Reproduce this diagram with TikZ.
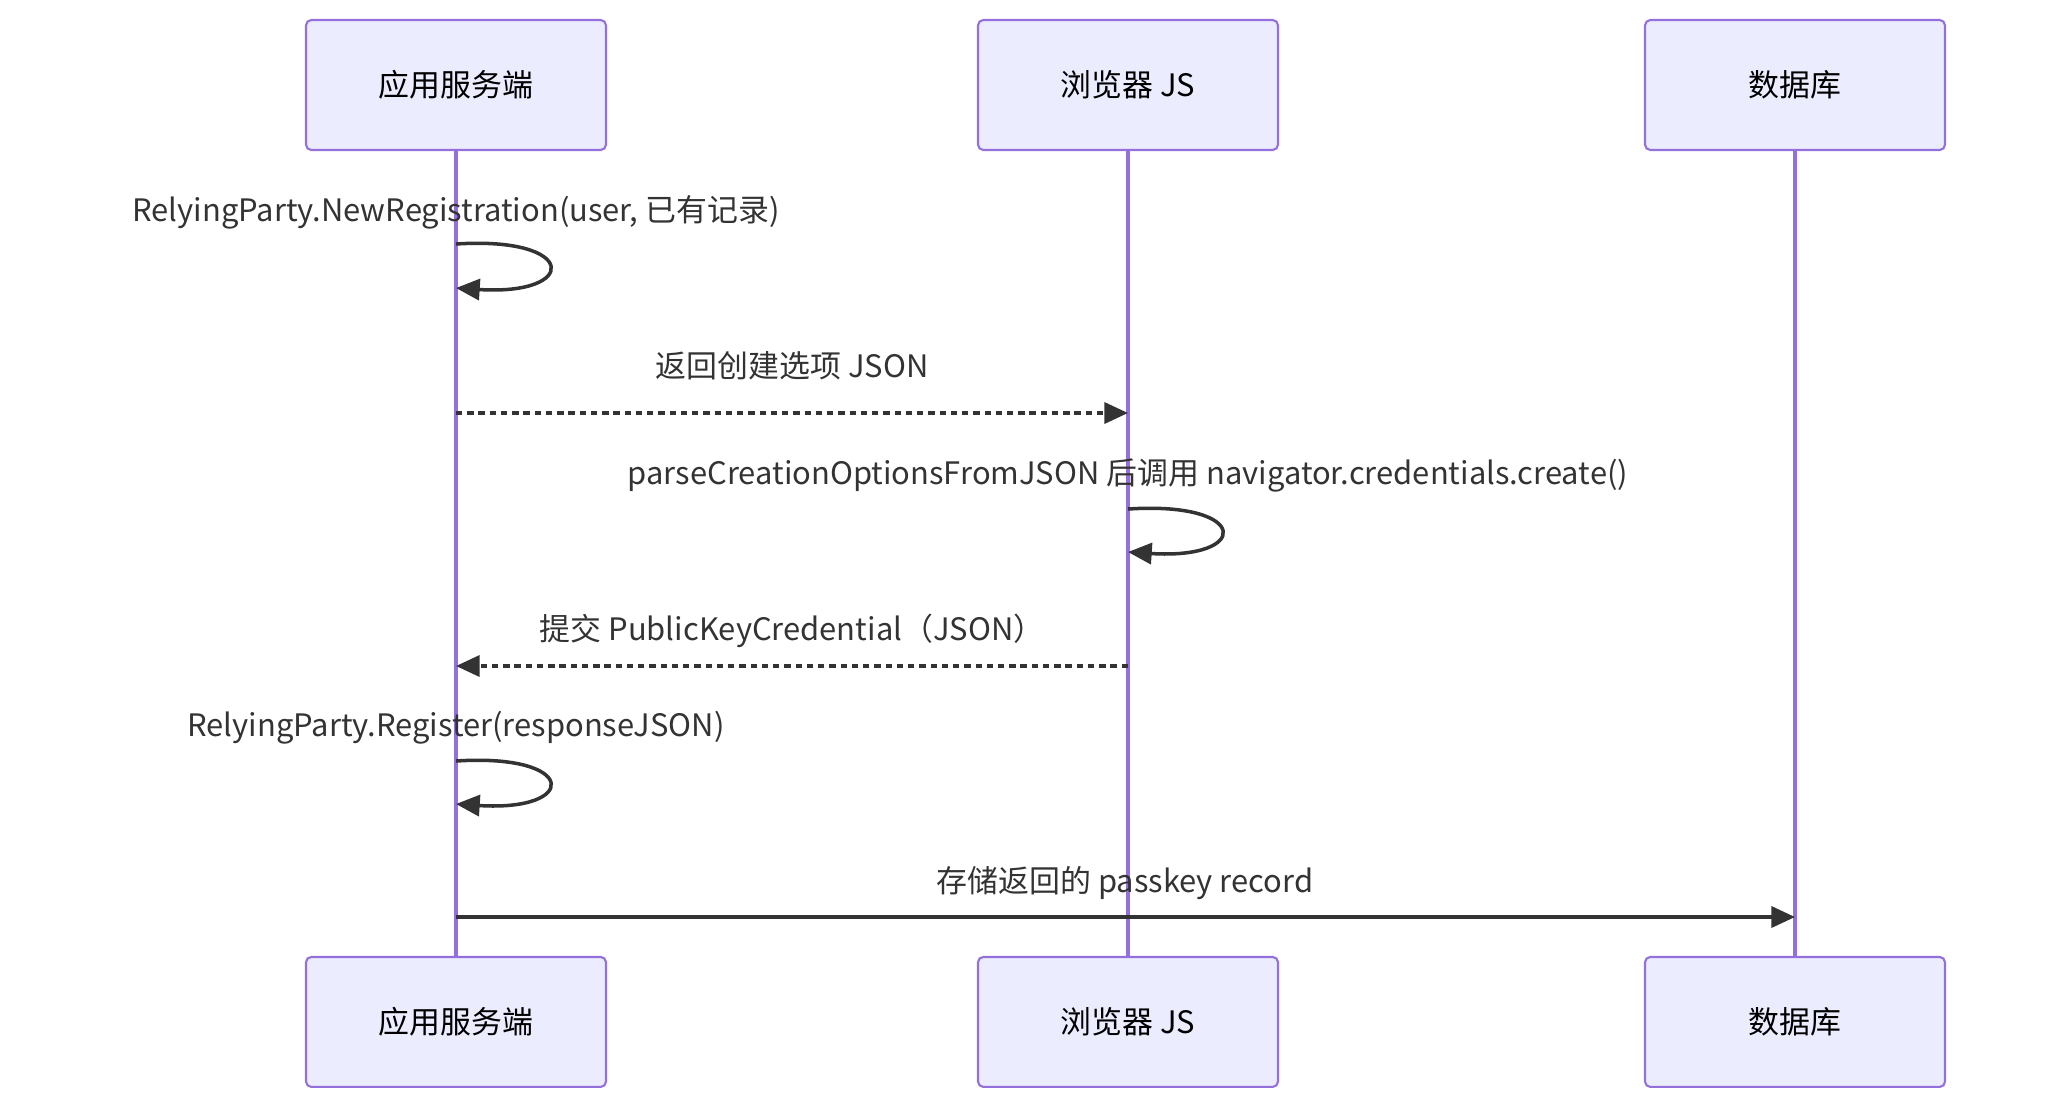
\documentclass[tikz,border=0pt]{standalone}
\usepackage{fontspec}
\setmainfont{Noto Sans CJK SC}
\usetikzlibrary{positioning}
\usetikzlibrary{arrows.meta}

\definecolor{actfill}{HTML}{ECECFF}
\definecolor{actline}{HTML}{9370DB}
\definecolor{msgline}{HTML}{333333}

\begin{document}
\begin{tikzpicture}[x=0.02cm, y=-0.02cm,
	actor/.style={draw=actline, fill=actfill, line width=1.2pt, rounded corners=3pt, minimum width=6cm, minimum height=2.6cm, font=\fontsize{17.6}{20}\selectfont},
	life/.style={draw=actline, line width=1.8pt},
	msg/.style={draw=msgline, line width=2pt, -{Triangle[length=13.5pt, width=12pt]}},
	reply/.style={msg, dash pattern=on 3.6pt off 2.8pt},
	msgtxt/.style={text=msgline, anchor=base, inner sep=0pt, font=\fontsize{17.6}{20}\selectfont}]
	\useasboundingbox (0,0) rectangle (2045,1110);
	% actors, top row
	\node[actor] (srv) at (456,85) {应用服务端};
	\node[actor] (js) at (1128,85) {浏览器 JS};
	\node[actor] (db) at (1795,85) {数据库};
	% actors, bottom row
	\node[actor, below=16.1cm of srv] (srvb) {应用服务端};
	\node[actor, below=16.1cm of js] (jsb) {浏览器 JS};
	\node[actor, below=16.1cm of db] (dbb) {数据库};
	% lifelines
	\draw[life] (srv) -- (srvb);
	\draw[life] (js) -- (jsb);
	\draw[life] (db) -- (dbb);
	% I
	\node[msgtxt] (t1) at (456,221) {RelyingParty.NewRegistration(user, 已有记录)};
	\draw[msg] (srv |- 0,244) .. controls +(123,-8) and +(123,8) .. (srv |- 0,288);
	% II
	\node[msgtxt] (t2) at (792,377) {返回创建选项 JSON};
	\draw[reply] (srv |- 0,413) -- (js |- 0,413);
	% III
	\node[msgtxt] (t3) at (1128,484) {parseCreationOptionsFromJSON 后调用 navigator.credentials.create()};
	\draw[msg] (js |- 0,509) .. controls +(123,-8) and +(123,8) .. (js |- 0,552);
	% IV
	\node[msgtxt] (t4) at (792,640) {提交 PublicKeyCredential（JSON）};
	\draw[reply] (js |- 0,666) -- (srv |- 0,666);
	% V
	\node[msgtxt] (t5) at (456,736) {RelyingParty.Register(responseJSON)};
	\draw[msg] (srv |- 0,761) .. controls +(123,-8) and +(123,8) .. (srv |- 0,804);
	% VI
	\node[msgtxt] (t6) at (1125,892) {存储返回的 passkey record};
	\draw[msg] (srv |- 0,917) -- (db |- 0,917);
\end{tikzpicture}
\end{document}
